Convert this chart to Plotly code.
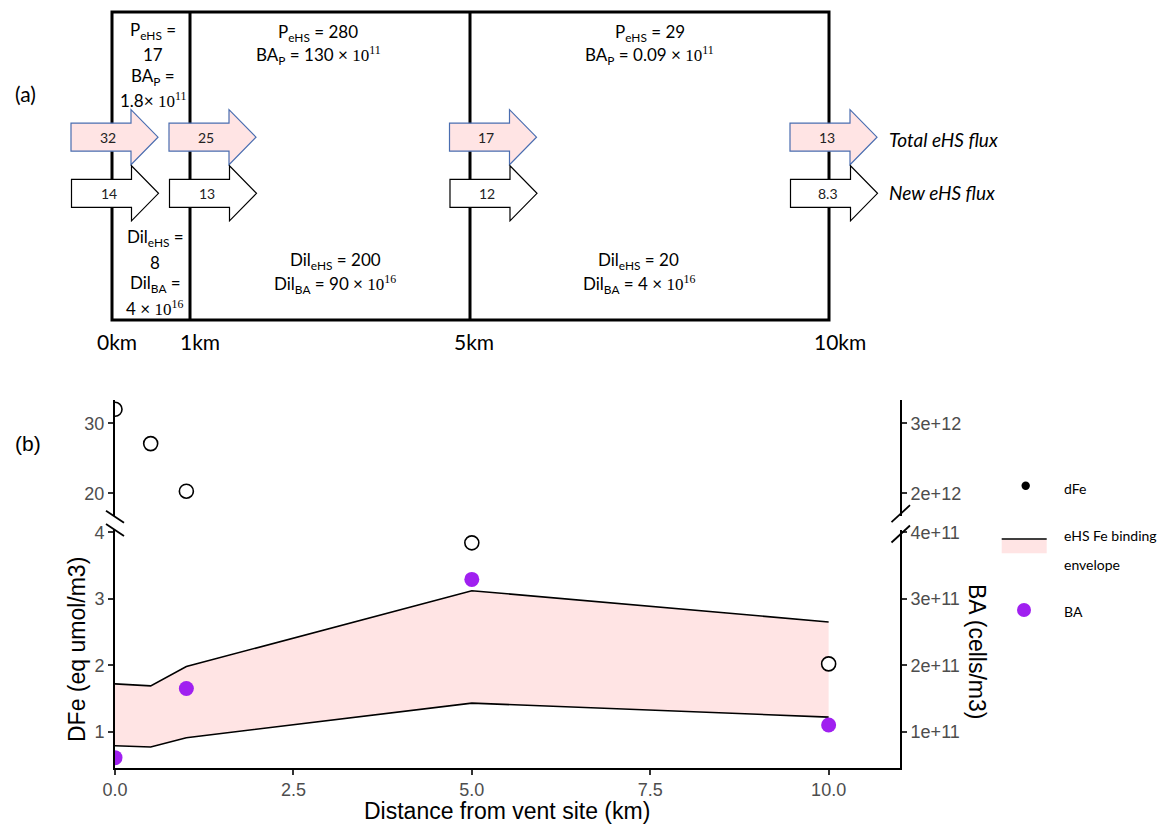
import plotly.graph_objects as go

W, H = 1166, 825

# ---- panel (a): eHS budget along the transect ----
boundary_labels = ["0km", "1km", "5km", "10km"]
total_flux = [32, 25, 17, 13]
new_flux = [14, 13, 12, 8.3]
prod_ehs = ["17", "280", "29"]
prod_ba = ["1.8", "130", "0.09"]
dil_ehs = ["8", "200", "20"]
dil_ba = ["4", "90", "4"]

# ---- panel (b): measurements vs distance ----
distance_km = [0, 0.5, 1, 5, 10]
dfe = [32, 27.1, 20.3, 3.84, 2.02]
env_lower = [0.79, 0.77, 0.91, 1.43, 1.22]
env_upper = [1.72, 1.69, 1.98, 3.12, 2.65]
ba_km = [0, 1, 5, 10]
ba_cells = [0.61e11, 1.65e11, 3.29e11, 1.10e11]

x_ticks = [0, 2.5, 5, 7.5, 10]
x_ticktext = ["0.0", "2.5", "5.0", "7.5", "10.0"]
low_ticks = [1, 2, 3, 4]
high_ticks = [20, 30]
ba_low_ticks = [1e11, 2e11, 3e11, 4e11]
ba_low_text = ["1e+11", "2e+11", "3e+11", "4e+11"]
ba_high_ticks = [2e12, 3e12]
ba_high_text = ["2e+12", "3e+12"]

PINK = "#FFE4E4"
PURPLE = "#A020F0"
BLUE_EDGE = "#4A6DB0"
SANS = "Liberation Sans"
BOXFONT = "Lato"


def px(x):
    return x / W


def py(y):
    return 1 - y / H


shapes = []
ann = []

# ---- panel (a) layout ----
box_x = [112, 190, 470, 829]
box_top, box_bottom = 12, 320
shapes.append(dict(type="rect", xref="paper", yref="paper",
                   x0=px(box_x[0]), x1=px(box_x[-1]), y0=py(box_bottom), y1=py(box_top),
                   line=dict(color="black", width=3), layer="below"))
for bx in box_x[1:-1]:
    shapes.append(dict(type="line", xref="paper", yref="paper",
                       x0=px(bx), x1=px(bx), y0=py(box_bottom), y1=py(box_top),
                       line=dict(color="black", width=3), layer="below"))

label_cx = [117, 200, 474, 840]
for lab, cx in zip(boundary_labels, label_cx):
    ann.append(dict(x=px(cx), y=py(341), text=lab, showarrow=False,
                    xref="paper", yref="paper", xanchor="center", yanchor="middle",
                    font=dict(family=BOXFONT, size=21, color="black")))


def arrow_path(x0, yc):
    body, head, tip = 14, 27.5, 87
    pts = [(x0, yc - body), (x0 + 60, yc - body), (x0 + 60, yc - head),
           (x0 + tip, yc), (x0 + 60, yc + head), (x0 + 60, yc + body),
           (x0, yc + body)]
    d = "M " + " L ".join(f"{px(a):.5f},{py(b):.5f}" for a, b in pts) + " Z"
    return d


pink_left = [71, 169, 449.5, 790]
white_left = [71.5, 169.5, 450, 790.5]
for x0, v in zip(pink_left, total_flux):
    shapes.append(dict(type="path", xref="paper", yref="paper", path=arrow_path(x0, 137.2),
                       fillcolor=PINK, line=dict(color=BLUE_EDGE, width=1.2), layer="above"))
    ann.append(dict(x=px(x0 + 37), y=py(137.5), text=f"{v:g}", showarrow=False,
                    xref="paper", yref="paper", xanchor="center", yanchor="middle",
                    font=dict(family=BOXFONT, size=14, color="#222")))
for x0, v in zip(white_left, new_flux):
    shapes.append(dict(type="path", xref="paper", yref="paper", path=arrow_path(x0, 193.3),
                       fillcolor="white", line=dict(color="black", width=1.2), layer="above"))
    ann.append(dict(x=px(x0 + 37), y=py(193.5), text=f"{v:g}", showarrow=False,
                    xref="paper", yref="paper", xanchor="center", yanchor="middle",
                    font=dict(family=BOXFONT, size=14, color="#222")))

ann.append(dict(x=px(887), y=py(140), text="<i>Total eHS flux</i>", showarrow=False,
                xref="paper", yref="paper", xanchor="left", yanchor="middle",
                font=dict(family=BOXFONT, size=19, color="black")))
ann.append(dict(x=px(887), y=py(193), text="<i>New eHS flux</i>", showarrow=False,
                xref="paper", yref="paper", xanchor="left", yanchor="middle",
                font=dict(family=BOXFONT, size=19, color="black")))


def pow10(e):
    return f'<span style="font-family:Liberation Serif">10<sup>{e}</sup></span>'


def box_text(cx, cy, text):
    ann.append(dict(x=px(cx), y=py(cy), text=text, showarrow=False,
                    xref="paper", yref="paper", xanchor="center", yanchor="middle",
                    font=dict(family=BOXFONT, size=17, color="black")))


# first (0-1 km) segment is narrow: one term per line
box_text(153, 31, "P<sub>eHS</sub> =")
box_text(153, 55, prod_ehs[0])
box_text(153, 77, "BA<sub>P</sub> =")
box_text(153, 100, f"{prod_ba[0]}× " + pow10(11))
box_text(155, 238, "Dil<sub>eHS</sub> =")
box_text(155, 262, dil_ehs[0])
box_text(155, 284, "Dil<sub>BA</sub> =")
box_text(154, 308, f"{dil_ba[0]} × " + pow10(16))

seg_top_cx = [318, 650]
seg_bot_cx = [335, 639]
for i, (tcx, bcx) in enumerate(zip(seg_top_cx, seg_bot_cx), start=1):
    box_text(tcx, 33, f"P<sub>eHS</sub> = {prod_ehs[i]}")
    box_text(tcx, 56, f"BA<sub>P</sub> = {prod_ba[i]} × " + pow10(11))
    box_text(bcx, 261, f"Dil<sub>eHS</sub> = {dil_ehs[i]}")
    box_text(bcx, 284, f"Dil<sub>BA</sub> = {dil_ba[i]} × " + pow10(16))

ann.append(dict(x=px(25), y=py(93), text="(a)", showarrow=False, xref="paper", yref="paper",
                xanchor="center", yanchor="middle", font=dict(family=BOXFONT, size=21, color="black")))
ann.append(dict(x=px(28), y=py(443), text="(b)", showarrow=False, xref="paper", yref="paper",
                xanchor="center", yanchor="middle", font=dict(family=SANS, size=21, color="black")))

# ---- panel (b) traces ----
fig = go.Figure()
fig.add_trace(go.Scatter(x=distance_km, y=env_lower, mode="lines", xaxis="x", yaxis="y",
                         line=dict(color="black", width=1.6), showlegend=False, hoverinfo="skip"))
fig.add_trace(go.Scatter(x=distance_km, y=env_upper, mode="lines", xaxis="x", yaxis="y",
                         fill="tonexty", fillcolor=PINK,
                         line=dict(color="black", width=1.6), showlegend=False, hoverinfo="skip"))
dfe_marker = dict(symbol="circle", size=14, color="white", line=dict(color="black", width=1.6))
fig.add_trace(go.Scatter(x=distance_km, y=dfe, mode="markers", xaxis="x", yaxis="y",
                         marker=dfe_marker, showlegend=False))
fig.add_trace(go.Scatter(x=distance_km, y=dfe, mode="markers", xaxis="x2", yaxis="y2",
                         marker=dfe_marker, showlegend=False))
fig.add_trace(go.Scatter(x=ba_km, y=ba_cells, mode="markers", xaxis="x", yaxis="y3",
                         marker=dict(symbol="circle", size=15, color=PURPLE), showlegend=False))
# BA values above the break (none measured) share the upper right-hand scale
fig.add_trace(go.Scatter(x=ba_km, y=ba_cells, mode="markers", xaxis="x2", yaxis="y4",
                         marker=dict(symbol="circle", size=15, color=PURPLE), showlegend=False))

x_dom = [px(115), px(900)]
low_dom = [py(767.7), py(530)]
high_dom = [py(516), py(400)]

axis_common = dict(showgrid=False, zeroline=False, showline=True, linecolor="black",
                   linewidth=2, ticks="outside", ticklen=5, tickwidth=1.5, tickcolor="#333",
                   automargin=False,
                   tickfont=dict(family=SANS, size=18, color="#4D4D4D"))

fig.update_layout(
    template="none",
    width=W, height=H,
    margin=dict(l=0, r=0, t=0, b=0, pad=0),
    paper_bgcolor="white", plot_bgcolor="rgba(0,0,0,0)",
    showlegend=False,
    xaxis=dict(domain=x_dom, range=[0, 11], anchor="y", tickvals=x_ticks,
               ticktext=x_ticktext, **axis_common),
    xaxis2=dict(domain=x_dom, range=[0, 11], anchor="y2", visible=False, automargin=False),
    yaxis=dict(domain=low_dom, range=[0.459, 4.033], anchor="x", tickvals=low_ticks,
               **axis_common),
    yaxis2=dict(domain=high_dom, range=[16.76, 33.33], anchor="x2", tickvals=high_ticks,
                **axis_common),
    yaxis3=dict(overlaying="y", side="right", anchor="x", range=[0.459e11, 4.033e11],
                tickvals=ba_low_ticks, ticktext=ba_low_text, **axis_common),
    yaxis4=dict(overlaying="y2", side="right", anchor="x2", range=[16.76e11, 33.33e11],
                tickvals=ba_high_ticks, ticktext=ba_high_text, **axis_common),
)

# axis break marks
for cy in (516.7, 530):
    shapes.append(dict(type="line", xref="paper", yref="paper",
                       x0=px(106), x1=px(124), y0=py(cy - 6), y1=py(cy + 6),
                       line=dict(color="black", width=1.8)))
for cy in (513.7, 534):
    shapes.append(dict(type="line", xref="paper", yref="paper",
                       x0=px(891.5), x1=px(910), y0=py(cy + 8.5), y1=py(cy - 8.5),
                       line=dict(color="black", width=1.8)))

# axis titles
ann.append(dict(x=px(77), y=py(650), text="DFe (eq umol/m3)", textangle=-90, showarrow=False,
                xref="paper", yref="paper", xanchor="center", yanchor="middle",
                font=dict(family=SANS, size=23, color="black")))
ann.append(dict(x=px(977), y=py(651), text="BA (cells/m3)", textangle=90, showarrow=False,
                xref="paper", yref="paper", xanchor="center", yanchor="middle",
                font=dict(family=SANS, size=23, color="black")))
ann.append(dict(x=px(507), y=py(811), text="Distance from vent site (km)", showarrow=False,
                xref="paper", yref="paper", xanchor="center", yanchor="middle",
                font=dict(family=SANS, size=23, color="black")))


# legend keys
def dot(cx, cy, r, color):
    return dict(type="circle", xref="paper", yref="paper",
                x0=px(cx - r), x1=px(cx + r), y0=py(cy + r), y1=py(cy - r),
                fillcolor=color, line=dict(width=0))


shapes.append(dot(1025.7, 485.7, 4.2, "black"))
shapes.append(dict(type="rect", xref="paper", yref="paper", x0=px(1001.7), x1=px(1046.7),
                   y0=py(553.3), y1=py(539.5), fillcolor=PINK, line=dict(width=0)))
shapes.append(dict(type="line", xref="paper", yref="paper", x0=px(1001.7), x1=px(1046.7),
                   y0=py(539), y1=py(539), line=dict(color="black", width=1.6)))
shapes.append(dot(1024, 610, 7, PURPLE))
for txt, cy in [("dFe", 488), ("eHS Fe binding", 535), ("envelope", 564), ("BA", 611)]:
    ann.append(dict(x=px(1061.5), y=py(cy), text=txt, showarrow=False,
                    xref="paper", yref="paper", xanchor="left", yanchor="middle",
                    font=dict(family=BOXFONT, size=14, color="black")))

fig.update_layout(shapes=shapes, annotations=ann)
fig.write_html("out.html")
